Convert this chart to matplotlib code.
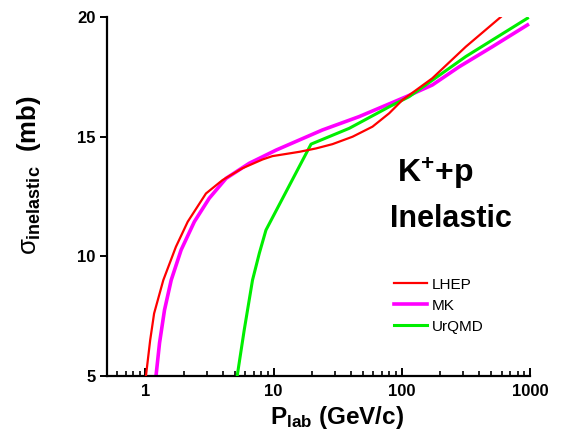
import matplotlib
matplotlib.use('Agg')
import matplotlib.pyplot as plt
from matplotlib.ticker import LogLocator, FixedLocator, NullFormatter, FixedFormatter

plt.rcParams['font.family'] = ['Liberation Sans', 'DejaVu Sans']
plt.rcParams['mathtext.fontset'] = 'custom'
plt.rcParams['mathtext.rm'] = 'Liberation Sans:bold'
plt.rcParams['mathtext.bf'] = 'Liberation Sans:bold'
plt.rcParams['mathtext.it'] = 'Liberation Sans'

# data
p_lhep = [1.01, 1.09, 1.17, 1.38, 1.73, 2.14, 2.97, 4.0, 5.7, 8.2, 9.8, 15.9, 21.4, 28.8, 41.3, 59.1, 79.8, 101, 173, 316, 592]
s_lhep = [5.0, 6.5, 7.62, 9.01, 10.4, 11.45, 12.63, 13.19, 13.68, 14.05, 14.19, 14.37, 14.51, 14.69, 15.0, 15.42, 15.98, 16.53, 17.44, 18.76, 20.0]

p_mk = [1.21, 1.29, 1.41, 1.59, 1.90, 2.41, 3.15, 4.26, 6.46, 10.45, 24.0, 46.5, 108, 173, 280, 509, 956]
s_mk = [5.0, 6.39, 7.76, 9.01, 10.27, 11.45, 12.43, 13.26, 13.89, 14.44, 15.28, 15.84, 16.67, 17.16, 17.92, 18.76, 19.67]

p_urqmd = [5.2, 5.9, 6.85, 7.74, 8.72, 19.6, 38.9, 79.8, 114, 316, 956]
s_urqmd = [5.0, 6.92, 9.01, 10.13, 11.1, 14.69, 15.35, 16.25, 16.67, 18.35, 19.95]

fig = plt.figure(figsize=(5.62, 4.42), dpi=100)
ax = fig.add_axes([0.190, 0.149, 0.753, 0.8125])

ax.plot(p_lhep, s_lhep, color='#ff0000', lw=1.6, label='LHEP', zorder=4)
ax.plot(p_mk, s_mk, color='#ff00ff', lw=2.6, label='MK', zorder=2)
ax.plot(p_urqmd, s_urqmd, color='#00ee00', lw=2.2, label='UrQMD', zorder=3)

ax.set_xscale('log')
ax.set_xlim(0.5, 1000)
ax.set_ylim(5, 20)

for s in ['top', 'right']:
    ax.spines[s].set_visible(False)
for s in ['left', 'bottom']:
    ax.spines[s].set_linewidth(1.6)

ax.xaxis.set_major_locator(FixedLocator([1, 10, 100, 1000]))
ax.xaxis.set_major_formatter(FixedFormatter(['1', '10', '100', '1000']))
ax.xaxis.set_minor_locator(LogLocator(base=10, subs=range(2, 10)))
ax.xaxis.set_minor_formatter(NullFormatter())
ax.set_yticks([5, 10, 15, 20])

ax.tick_params(axis='x', which='major', direction='in', length=6, width=1.4, labelsize=12, pad=6)
ax.tick_params(axis='x', which='minor', direction='in', length=3.5, width=1.2)
ax.tick_params(axis='y', which='major', direction='out', length=5, width=1.4, labelsize=12, pad=3)
for lab in ax.get_xticklabels() + ax.get_yticklabels():
    lab.set_fontweight('bold')

ax.set_xlabel(r'$\mathbf{P}_{\mathbf{lab}}$ (GeV/c)', fontsize=17.5, fontweight='bold')
ax.xaxis.set_label_coords(0.545, -0.078)
ax.set_ylabel(r'$\sigma_{\mathbf{inelastic}}$  (mb)', fontsize=18.5, fontweight='bold')
ax.yaxis.set_label_coords(-0.15, 0.56)

ax.text(0.775, 0.562, r'K$^{+}$+p', transform=ax.transAxes, fontsize=23,
        fontweight='bold', ha='center', va='center')
ax.text(0.813, 0.437, 'Inelastic', transform=ax.transAxes, fontsize=22,
        fontweight='bold', ha='center', va='center')

ax.legend(loc='upper left', bbox_to_anchor=(0.66, 0.295), frameon=False, fontsize=11,
          handlelength=2.2, handletextpad=0.3, labelspacing=0.45, borderpad=0)

fig.savefig('out.png', dpi=100)
